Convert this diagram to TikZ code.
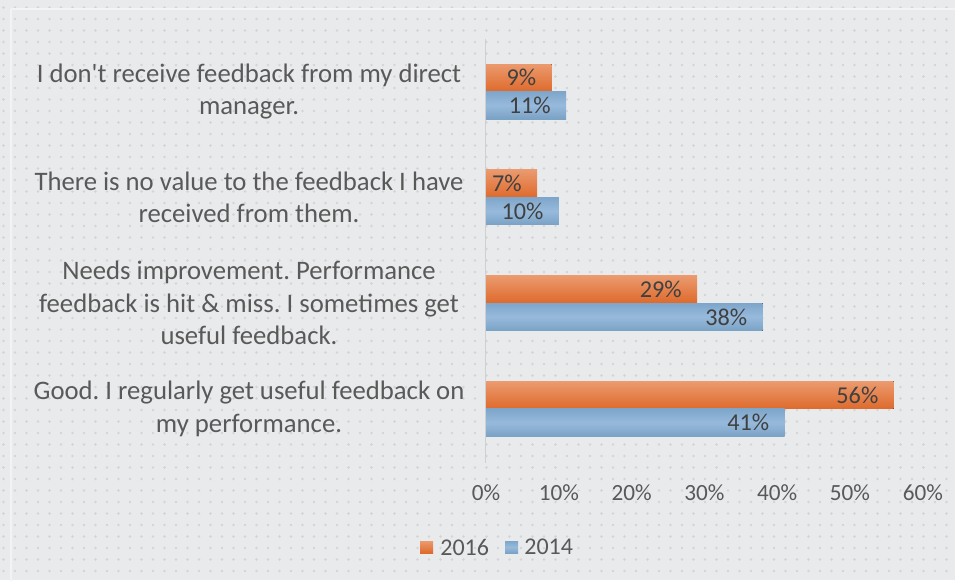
\documentclass[tikz,border=0pt]{standalone}
\usepackage{fontspec}
\setmainfont{Carlito}
\usepackage{xcolor}
\usepackage{tikz}
\frenchspacing

\definecolor{bgc}{HTML}{E9EAEC}
\definecolor{dotc}{HTML}{D3D4D6}
\definecolor{framec}{HTML}{F3F3F4}
\definecolor{axisc}{HTML}{CFD0D2}
\definecolor{txtc}{HTML}{595959}
\definecolor{valc}{HTML}{404040}
\definecolor{orgtop}{HTML}{EB9A6E}
\definecolor{orgbot}{HTML}{DE6A2C}
\definecolor{blutop}{HTML}{7EA6CA}
\definecolor{blumid}{HTML}{97BADC}
\definecolor{blubot}{HTML}{7AA2C5}

\tikzset{
  catlab/.style={text=txtc, align=center, font=\fontsize{13.35}{16.25}\selectfont},
  ticklab/.style={text=txtc, font=\fontsize{11.6}{14}\selectfont},
  vallab/.style={text=valc, anchor=east, inner sep=0pt, font=\fontsize{12.1}{14}\selectfont},
  leglab/.style={text=txtc, anchor=west, inner sep=0pt, font=\fontsize{12}{14}\selectfont},
  bar16/.style={top color=orgtop, bottom color=orgbot},
  bar14/.style={top color=blutop, bottom color=blubot, middle color=blumid},
}

\begin{document}
\begin{tikzpicture}[x=0.5pt,y=-0.5pt]
\useasboundingbox (0,0) rectangle (955,580);
\fill[bgc] (0,0) rectangle (955,580);
% dotted background
\foreach \i in {0,...,83}
  \foreach \j in {0,...,50}
    \fill[dotc] (\i*11.5+3.5,\j*11.5+7.5) circle (1.3);
\draw[framec, line width=1.2pt] (11,9) -- (970,9);
\draw[framec, line width=1.2pt] (11,9) -- (11,590);

% vertical axis
\coordinate (axtop) at (485.5,39);
\coordinate (axbot) at (485.5,463);
\draw[axisc, line width=0.8pt] (axtop) -- (axbot);

% categories
\draw (249,91.5) node (cat1) [catlab] {I don\textquotesingle t receive feedback from my direct\\manager.};
\draw (249,197.3) node (cat2) [catlab] {There is no value to the feedback I have\\received from them.};
\draw (249,303.1) node (cat3) [catlab] {Needs improvement. Performance\\feedback is hit \& miss. I sometimes get\\useful feedback.};
\draw (249,408.9) node (cat4) [catlab] {Good. I regularly get useful feedback on\\my performance.};

% bars, 2016 above 2014
\fill[bar16] (486,64) rectangle (551.5,91.5);
\fill[bar14] (486,91.5) rectangle (566.1,119);
\fill[bar16] (486,169.8) rectangle (537,197.3);
\fill[bar14] (486,197.3) rectangle (558.8,224.8);
\fill[bar16] (486,275.6) rectangle (697.1,303.1);
\fill[bar14] (486,303.1) rectangle (762.6,330.6);
\fill[bar16] (486,381.4) rectangle (893.7,408.9);
\fill[bar14] (486,408.9) rectangle (784.5,436.4);

% values
\draw (536.5,77.75) node (v1a) [vallab] {9\%};
\draw (551.1,105.25) node (v1b) [vallab] {11\%};
\draw (522,183.55) node (v2a) [vallab] {7\%};
\draw (543.8,211.05) node (v2b) [vallab] {10\%};
\draw (682.1,289.35) node (v3a) [vallab] {29\%};
\draw (747.6,316.85) node (v3b) [vallab] {38\%};
\draw (878.7,395.15) node (v4a) [vallab] {56\%};
\draw (769.5,422.65) node (v4b) [vallab] {41\%};

% x axis labels
\draw (486,493) node (t0) [ticklab] {0\%};
\draw (558.8,493) node (t1) [ticklab] {10\%};
\draw (631.6,493) node (t2) [ticklab] {20\%};
\draw (704.4,493) node (t3) [ticklab] {30\%};
\draw (777.2,493) node (t4) [ticklab] {40\%};
\draw (850,493) node (t5) [ticklab] {50\%};
\draw (922.8,493) node (t6) [ticklab] {60\%};

% legend
\fill[bar16] (420,541) rectangle (433,553);
\draw (440,547) node (leg16) [leglab] {2016};
\fill[bar14] (505,541) rectangle (518,553);
\draw (524,547) node (leg14) [leglab] {2014};
\end{tikzpicture}
\end{document}
